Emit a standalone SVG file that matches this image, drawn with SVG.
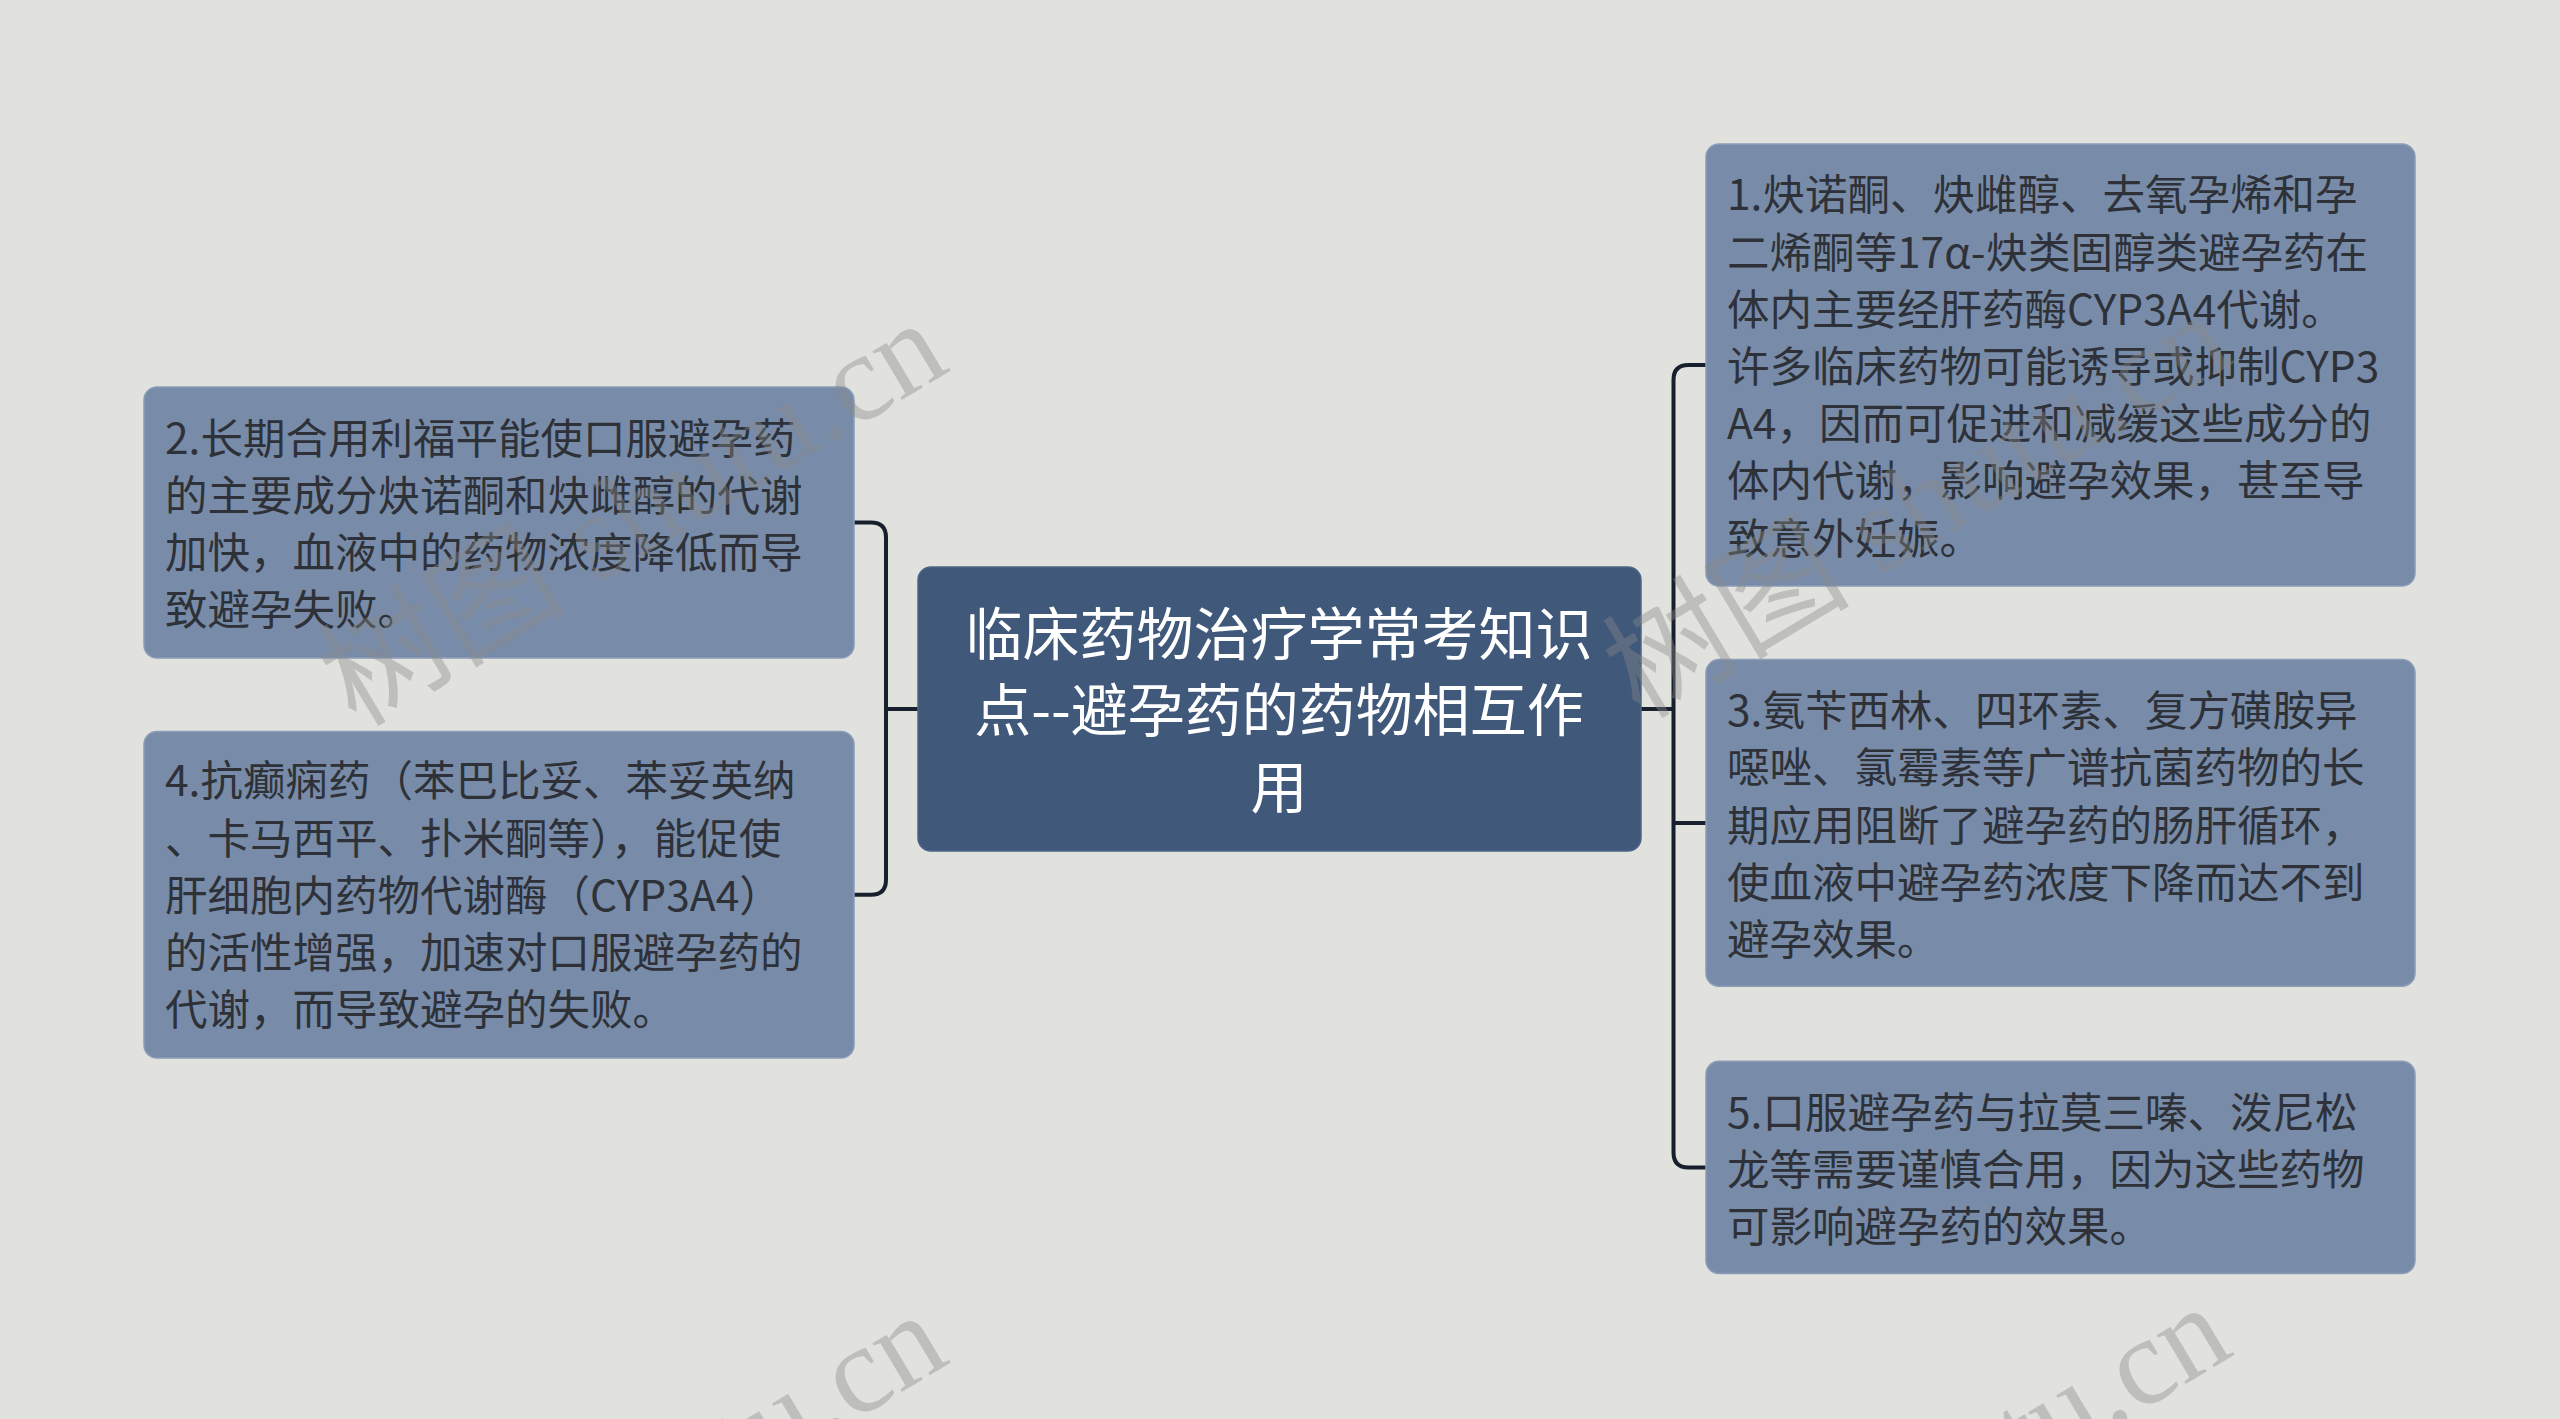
<svg xmlns="http://www.w3.org/2000/svg" width="2560" height="1419" viewBox="0 0 2560 1419">
<style>
.bg{fill:#e1e2de}
.node rect{fill:#788ca9;stroke:#8a9cb6;stroke-width:1.5}
.node text{font-family:"Noto Sans CJK SC","Noto Sans",sans-serif;font-size:42.5px;fill:#2e3238}
.root rect{fill:#40587a;stroke:#4d6585;stroke-width:1.5}
.root text{font-family:"Noto Sans CJK SC","Noto Sans",sans-serif;font-size:57px;fill:#ffffff;text-anchor:middle}
.conn path{fill:none;stroke:#18202d;stroke-width:4}
.wm text{font-family:"Liberation Serif","Noto Sans CJK SC",serif;font-size:124px;fill:#8a8a8a;fill-opacity:0.4}
</style>
<rect class="bg" x="0" y="0" width="2560" height="1419"/>
<g id="connectors" class="conn">
<path d="M918 709 H886"/>
<path d="M854 522.5 H871 Q886 522.5 886 537.5 V879.7 Q886 894.7 871 894.7 H854"/>
<path d="M1641 709 H1673.5"/>
<path d="M1706 365 H1688.5 Q1673.5 365 1673.5 380 V1152.4 Q1673.5 1167.4 1688.5 1167.4 H1706"/>
<path d="M1673.5 823 H1706"/>
</g>
<g id="root" class="root">
<rect x="918" y="567" width="723" height="284" rx="13"/>
<text x="1279" y="654.5">临床药物治疗学常考知识</text>
<text x="1279" y="731.2">点--避孕药的药物相互作</text>
<text x="1279" y="808">用</text>
</g>
<g id="node2" class="node">
<rect x="144" y="387" width="710" height="271" rx="13"/>
<text x="165" y="453.6">2.长期合用利福平能使口服避孕药</text>
<text x="165" y="510.8">的主要成分炔诺酮和炔雌醇的代谢</text>
<text x="165" y="568">加快，血液中的药物浓度降低而导</text>
<text x="165" y="625.2">致避孕失败。</text>
</g>
<g id="node4" class="node">
<rect x="144" y="731.5" width="710" height="326.5" rx="13"/>
<text x="165" y="796.4">4.抗癫痫药（苯巴比妥、苯妥英纳</text>
<text x="165" y="853.6">、卡马西平、扑米酮等），能促使</text>
<text x="165" y="910.8">肝细胞内药物代谢酶（CYP3A4）</text>
<text x="165" y="968">的活性增强，加速对口服避孕药的</text>
<text x="165" y="1025.2">代谢，而导致避孕的失败。</text>
</g>
<g id="node1" class="node">
<rect x="1706" y="144" width="709" height="442" rx="13"/>
<text x="1727" y="210.3">1.炔诺酮、炔雌醇、去氧孕烯和孕</text>
<text x="1727" y="267.5">二烯酮等17α-炔类固醇类避孕药在</text>
<text x="1727" y="324.7">体内主要经肝药酶CYP3A4代谢。</text>
<text x="1727" y="381.9">许多临床药物可能诱导或抑制CYP3</text>
<text x="1727" y="439.1">A4，因而可促进和减缓这些成分的</text>
<text x="1727" y="496.3">体内代谢，影响避孕效果，甚至导</text>
<text x="1727" y="553.5">致意外妊娠。</text>
</g>
<g id="node3" class="node">
<rect x="1706" y="659.6" width="709" height="326.6" rx="13"/>
<text x="1727" y="726.2">3.氨苄西林、四环素、复方磺胺异</text>
<text x="1727" y="783.4">噁唑、氯霉素等广谱抗菌药物的长</text>
<text x="1727" y="840.6">期应用阻断了避孕药的肠肝循环，</text>
<text x="1727" y="897.8">使血液中避孕药浓度下降而达不到</text>
<text x="1727" y="955">避孕效果。</text>
</g>
<g id="node5" class="node">
<rect x="1706" y="1061.3" width="709" height="212.2" rx="13"/>
<text x="1727" y="1127.9">5.口服避孕药与拉莫三嗪、泼尼松</text>
<text x="1727" y="1185.1">龙等需要谨慎合用，因为这些药物</text>
<text x="1727" y="1242.3">可影响避孕药的效果。</text>
</g>
<g id="watermarks" class="wm">
<text transform="translate(356 728) rotate(-31)">树图 shutu.cn</text>
<text transform="translate(1640 720) rotate(-31)">树图 shutu.cn</text>
<text transform="translate(356 1720) rotate(-31)">树图 shutu.cn</text>
<text transform="translate(1640 1712) rotate(-31)">树图 shutu.cn</text>
</g>
</svg>
